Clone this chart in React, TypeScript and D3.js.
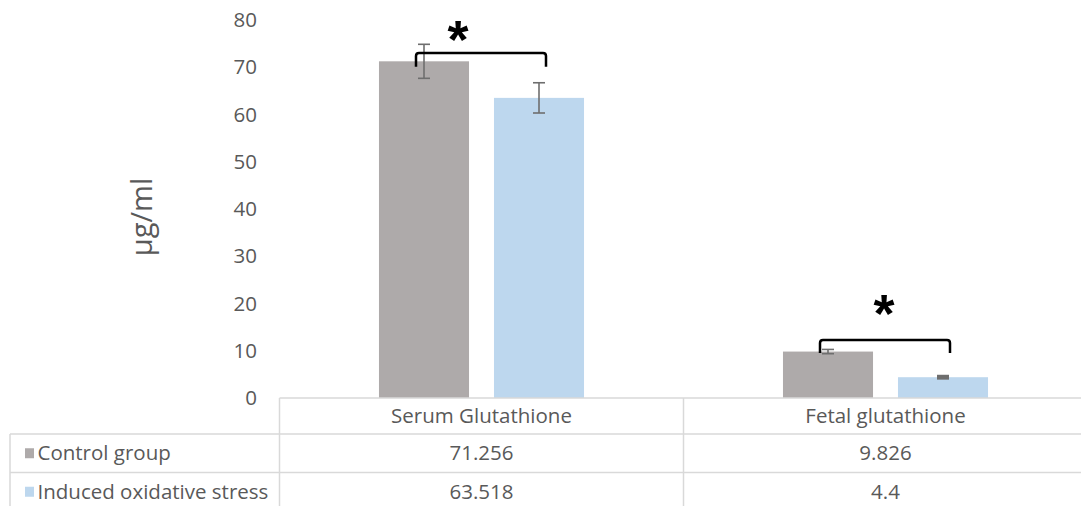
import React from "react";
import * as d3 from "d3";

const categories = ["Serum Glutathione", "Fetal glutathione"];
const seriesNames = ["Control group", "Induced oxidative stress"];
const controlValues = [71.256, 9.826];
const inducedValues = [63.518, 4.4];
const controlErrors = [3.6, 0.45];
const inducedErrors = [3.2, 0.2];
const valueLabels = [
  ["71.256", "9.826"],
  ["63.518", "4.4"],
];
const yTicks = [0, 10, 20, 30, 40, 50, 60, 70, 80];
// significance brackets (data units): top of bracket, bottom of legs, star centre
const bracketTop = [73.0, 12.3];
const bracketLegBottom = [70.1, 9.5];
const starY = [78.3, 20.4];

const W = 1081;
const H = 506;
const colors = ["#AEAAAA", "#BDD7EE"];
const textColor = "#595959";
const gridColor = "#D9D9D9";
const font = "'Open Sans', sans-serif";
const fs = 20.5;
const starShift = [-23, -1];

export default function App() {
  const x0 = d3.scaleBand<string>().domain(categories).range([279.5, 1087.5]);
  const x1 = d3
    .scaleBand<number>()
    .domain([0, 1])
    .range([0, x0.bandwidth()])
    .paddingInner(0.217)
    .paddingOuter(0.865);
  const y = d3.scaleLinear().domain([0, 80]).range([398, 20]);

  const series = [controlValues, inducedValues];
  const errs = [controlErrors, inducedErrors];

  const rowTops = [398, 434, 472.5];
  const rowBottom = 512;
  const legendLeft = 10;
  const plotLeft = 279.5;

  return (
    <svg width={W} height={H} style={{ position: "absolute", left: 0, top: 0 }}>
      <rect width={W} height={H} fill="#fff" />
      {yTicks.map((t) => (
        <text
          key={t}
          x={257}
          y={y(t)}
          dy="0.35em"
          textAnchor="end"
          fontFamily={font}
          fontSize={fs}
          fill={textColor}
        >
          {t}
        </text>
      ))}
      <text
        transform={`translate(152,${217}) rotate(-90)`}
        textAnchor="middle"
        fontFamily={font}
        fontSize={29}
        fill={textColor}
      >
        µg/ml
      </text>
      {categories.map((c, ci) =>
        series.map((s, si) => {
          const bx = (x0(c) as number) + (x1(si) as number);
          const bw = x1.bandwidth();
          return (
            <rect
              key={`${ci}-${si}`}
              x={bx}
              y={y(s[ci])}
              width={bw}
              height={y(0) - y(s[ci])}
              fill={colors[si]}
            />
          );
        })
      )}
      {categories.map((c, ci) =>
        series.map((s, si) => {
          const cx = (x0(c) as number) + (x1(si) as number) + x1.bandwidth() / 2;
          const top = y(s[ci] + errs[si][ci]);
          const bot = y(s[ci] - errs[si][ci]);
          const sw = errs[si][ci] < 0.3 ? 3 : 1.6;
          return (
            <g key={`e${ci}-${si}`} stroke="#6E6E6E" strokeWidth={sw}>
              <line x1={cx} x2={cx} y1={top} y2={bot} />
              <line x1={cx - 6} x2={cx + 6} y1={top} y2={top} />
              <line x1={cx - 6} x2={cx + 6} y1={bot} y2={bot} />
            </g>
          );
        })
      )}
      {categories.map((c, ci) => {
        const cx0 = (x0(c) as number) + (x1(0) as number) + x1.bandwidth() / 2;
        const cx1 = (x0(c) as number) + (x1(1) as number) + x1.bandwidth() / 2;
        const lx = cx0 - 8;
        const rx = cx1 + 7;
        const ty = y(bracketTop[ci]);
        const by = y(bracketLegBottom[ci]);
        const d = `M${lx},${by} L${lx},${ty + 3} Q${lx},${ty} ${lx + 3},${ty} L${rx - 3},${ty} Q${rx},${ty} ${rx},${ty + 3} L${rx},${by}`;
        const sx = (lx + rx) / 2 + starShift[ci];
        return (
          <g key={`b${ci}`}>
            <path d={d} fill="none" stroke="#000" strokeWidth={2.5} />
            <text
              x={sx}
              y={y(starY[ci]) + 30}
              textAnchor="middle"
              fontFamily="'Liberation Sans', Arial, sans-serif"
              fontWeight="bold"
              fontSize={54}
              fill="#000"
            >
              *
            </text>
          </g>
        );
      })}
      <g stroke={gridColor} strokeWidth={1.5} fill="none">
        <line x1={plotLeft} x2={W} y1={rowTops[0]} y2={rowTops[0]} />
        <line x1={legendLeft} x2={W} y1={rowTops[1]} y2={rowTops[1]} />
        <line x1={legendLeft} x2={W} y1={rowTops[2]} y2={rowTops[2]} />
        <line x1={legendLeft} x2={legendLeft} y1={rowTops[1]} y2={rowBottom} />
        <line x1={plotLeft} x2={plotLeft} y1={rowTops[0]} y2={rowBottom} />
        {categories.map((c) => {
          const xe = (x0(c) as number) + x0.bandwidth();
          return <line key={c} x1={xe} x2={xe} y1={rowTops[0]} y2={rowBottom} />;
        })}
      </g>
      {categories.map((c) => (
        <text
          key={c}
          x={(x0(c) as number) + x0.bandwidth() / 2}
          y={(rowTops[0] + rowTops[1]) / 2}
          dy="0.35em"
          textAnchor="middle"
          fontFamily={font}
          fontSize={fs}
          fill={textColor}
        >
          {c}
        </text>
      ))}
      {seriesNames.map((n, si) => {
        const rt = rowTops[si + 1];
        const rb = si + 2 < rowTops.length ? rowTops[si + 2] : rt + 38.5;
        const cy = (rt + rb) / 2;
        return (
          <g key={n}>
            <rect x={25} y={cy - 5} width={9} height={10} fill={colors[si]} />
            <text
              x={37.5}
              y={cy}
              dy="0.35em"
              fontFamily={font}
              fontSize={fs}
              fill={textColor}
            >
              {n}
            </text>
            {categories.map((c, ci) => (
              <text
                key={c}
                x={(x0(c) as number) + x0.bandwidth() / 2}
                y={cy}
                dy="0.35em"
                textAnchor="middle"
                fontFamily={font}
                fontSize={fs}
                fill={textColor}
              >
                {valueLabels[si][ci]}
              </text>
            ))}
          </g>
        );
      })}
    </svg>
  );
}
